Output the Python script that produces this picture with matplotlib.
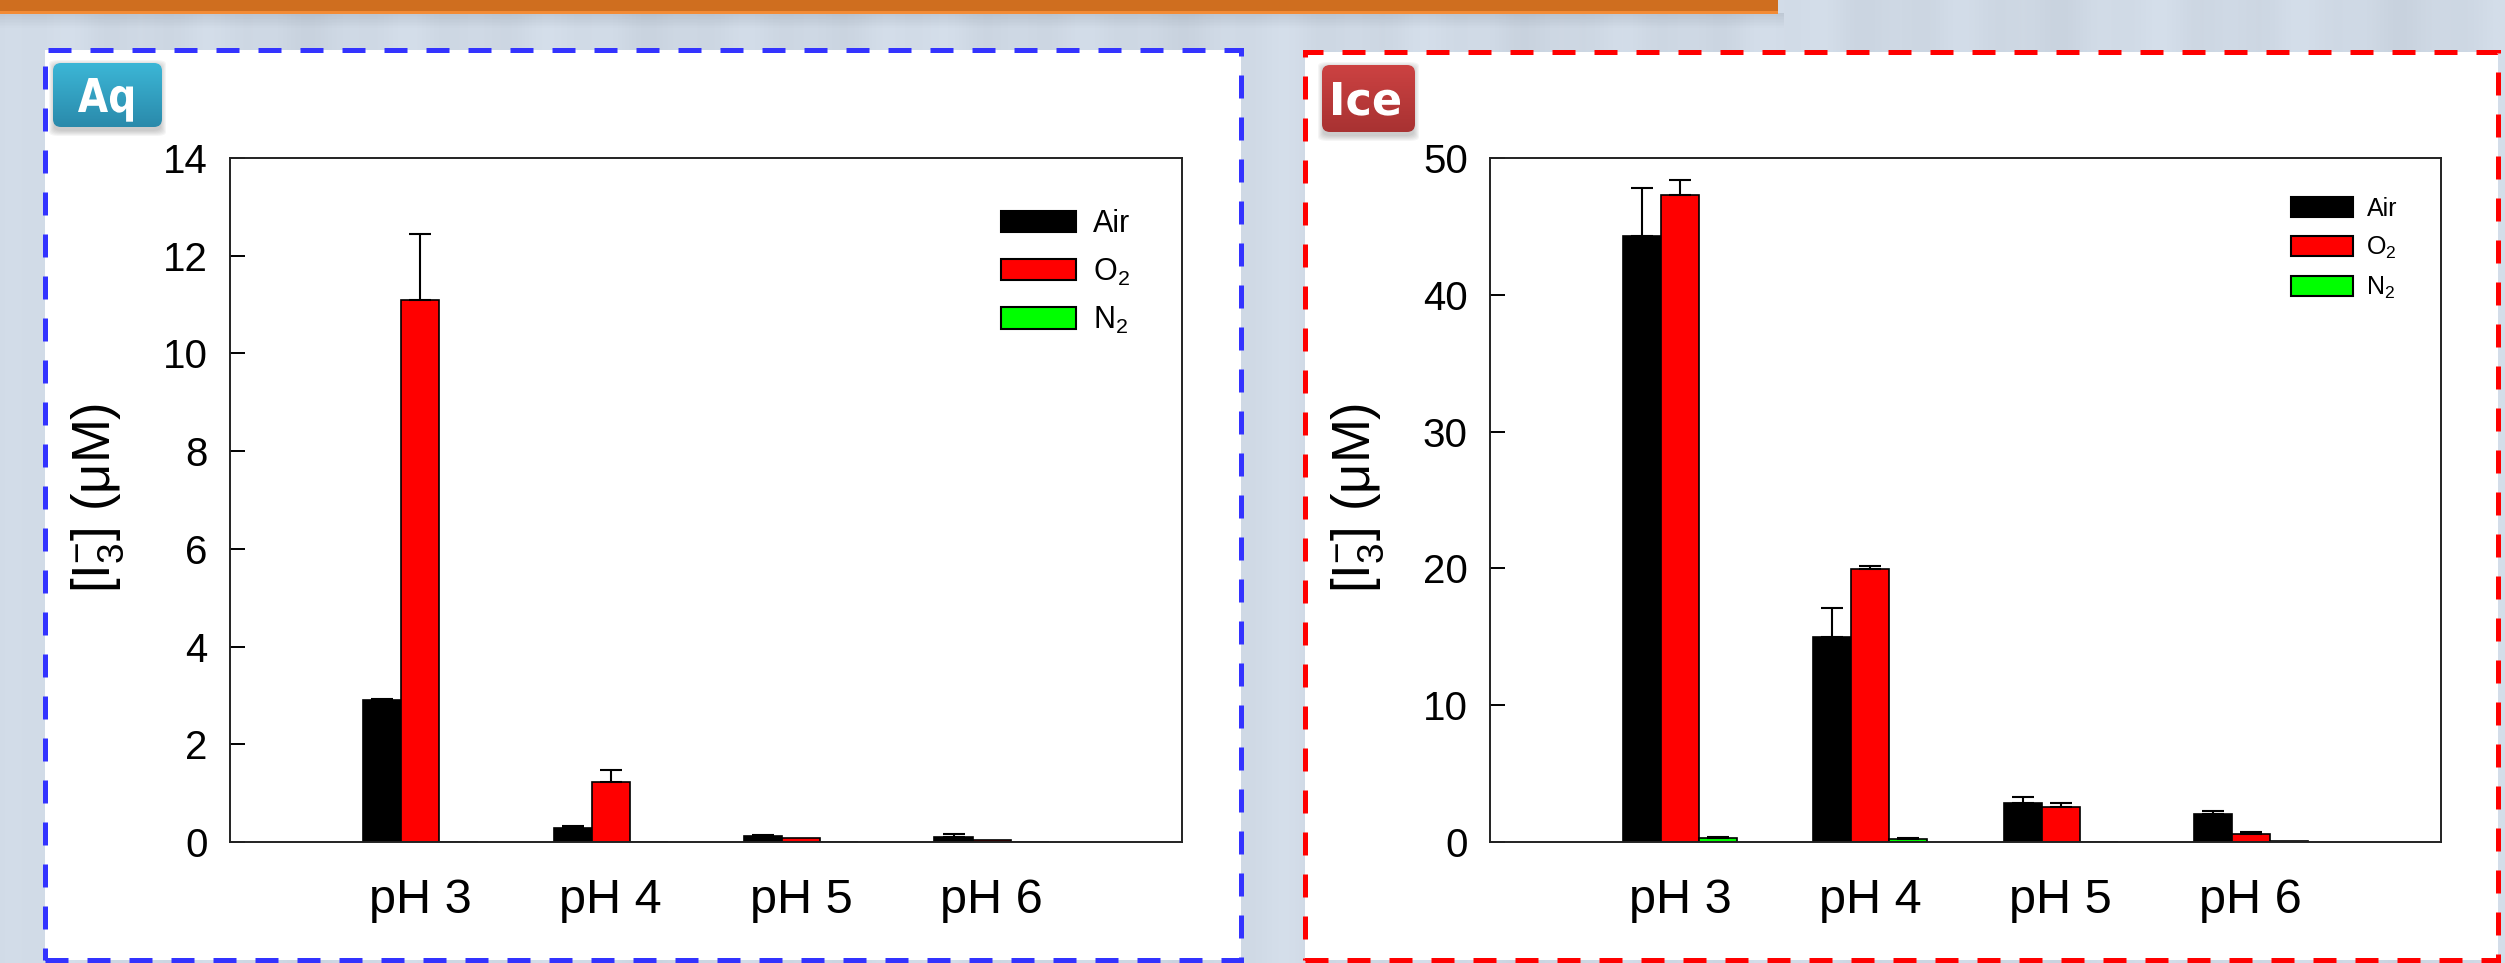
import numpy as np
import matplotlib
matplotlib.use('Agg')
import matplotlib.pyplot as plt
from matplotlib.patches import Rectangle, FancyBboxPatch, PathPatch
from matplotlib.textpath import TextPath
from matplotlib.font_manager import FontProperties
from matplotlib.transforms import Affine2D

plt.rcParams['font.family'] = ['Liberation Sans', 'DejaVu Sans']
plt.rcParams['mathtext.fontset'] = 'custom'
plt.rcParams['mathtext.rm'] = 'Liberation Sans'
plt.rcParams['mathtext.it'] = 'Liberation Sans:italic'
plt.rcParams['mathtext.default'] = 'regular'

# ---------------- data ----------------
categories = ['pH 3', 'pH 4', 'pH 5', 'pH 6']
series = ['Air', 'O$_2$', 'N$_2$']
colors = ['#000000', '#ff0000', '#00ff00']

aq_air = [2.90, 0.28, 0.12, 0.10]
aq_air_err = [0.03, 0.05, 0.03, 0.06]
aq_o2 = [11.1, 1.22, 0.08, 0.05]
aq_o2_err = [1.35, 0.25, 0.0, 0.0]
aq_n2 = [0.0, 0.0, 0.0, 0.0]
aq_n2_err = [0.0, 0.0, 0.0, 0.0]

ice_air = [44.3, 15.0, 2.85, 2.05]
ice_air_err = [3.5, 2.1, 0.45, 0.18]
ice_o2 = [47.3, 19.95, 2.55, 0.60]
ice_o2_err = [1.1, 0.2, 0.3, 0.15]
ice_n2 = [0.27, 0.20, 0.0, 0.10]
ice_n2_err = [0.07, 0.07, 0.0, 0.0]

aq_ticks = [0, 2, 4, 6, 8, 10, 12, 14]
ice_ticks = [0, 10, 20, 30, 40, 50]
ylabel = '[I$_3^{-}$] (\u03bcM)'

# ---------------- figure ----------------
W, H = 2505, 963
fig = plt.figure(figsize=(W / 100, H / 100), dpi=100, facecolor='#cfd9e5')


def fx(x):
    return x / W


def fy(y):
    return 1 - y / H


def frect(x0, y0, x1, y1, **kw):
    return Rectangle((fx(x0), fy(y1)), (x1 - x0) / W, (y1 - y0) / H,
                     transform=fig.transFigure, **kw)


# background texture (subtle vertical streaks)
bg = fig.add_axes([0, 0, 1, 1], zorder=-10)
bg.axis('off')
xs = np.linspace(0, 1, 600)
streak = (0.012 * np.sin(xs * 90) + 0.008 * np.sin(xs * 233 + 1.3)
          + 0.006 * np.sin(xs * 37 + 0.4))
base = np.array([0.812, 0.851, 0.898])
img = np.clip(base[None, None, :] + streak[None, :, None], 0, 1)
img = np.repeat(img, 4, axis=0)
bg.imshow(img, aspect='auto', extent=[0, 1, 0, 1], interpolation='bilinear')
bg.set_xlim(0, 1)
bg.set_ylim(0, 1)

# orange header with shadow
for k in range(10):
    fig.add_artist(frect(0, 13 + k * 1.5, 1778 + 6, 13 + (k + 1) * 1.5,
                         facecolor='#5a6470', alpha=0.16 * (1 - k / 10),
                         linewidth=0, zorder=-6))
fig.add_artist(frect(0, 0, 1778, 12, facecolor='#cf6e1f', linewidth=0, zorder=-5))
fig.add_artist(frect(0, 11, 1778, 14, facecolor='#f28b35', linewidth=0, zorder=-5))

# panels
dash = (0, (4.6, 3.8))
for (x0, y0, x1, y1, ec) in [(44.5, 50, 1241, 960, '#3333ff'),
                             (1304.5, 52, 2498, 960, '#ff0000')]:
    fig.add_artist(frect(x0, y0, x1, y1, facecolor='white', edgecolor='none',
                         zorder=-4))
    fig.add_artist(frect(x0, y0, x1, y1, facecolor='none', edgecolor=ec,
                         linewidth=3.6, linestyle=dash, zorder=-3))


# badges
def badge(x0, y0, x1, y1, text, ctop, cbot, tx0, tx1, cap_top, base_y):
    for k in range(6):
        s = 6 - k
        fig.add_artist(FancyBboxPatch((fx(x0 - s + 2), fy(y1 + s + 3)),
                                      (x1 - x0 + 2 * s - 4) / W,
                                      (y1 - y0 + 2 * s) / H,
                                      boxstyle='round,pad=0,rounding_size=0.004',
                                      transform=fig.transFigure,
                                      facecolor='#4a4a4a', alpha=0.05,
                                      linewidth=0, zorder=4))
    bax = fig.add_axes([fx(x0), fy(y1), (x1 - x0) / W, (y1 - y0) / H], zorder=5)
    bax.axis('off')
    bax.set_xlim(0, x1 - x0)
    bax.set_ylim(0, y1 - y0)
    c1 = np.array(matplotlib.colors.to_rgb(ctop))
    c2 = np.array(matplotlib.colors.to_rgb(cbot))
    t = np.linspace(0, 1, 64)[:, None]
    grad = (c1[None, :] * (1 - t) + c2[None, :] * t)[:, None, :]
    grad = np.repeat(grad, 2, axis=1)
    im = bax.imshow(grad, extent=[0, x1 - x0, 0, y1 - y0], aspect='auto',
                    interpolation='bilinear')
    clip = FancyBboxPatch((0, 0), x1 - x0, y1 - y0,
                          boxstyle='round,pad=0,rounding_size=8',
                          transform=bax.transData, facecolor='none',
                          edgecolor='none')
    bax.add_patch(clip)
    im.set_clip_path(clip)
    fp = FontProperties(family='DejaVu Sans', weight='bold')
    tp = TextPath((0, 0), text, size=100, prop=fp)
    capp = TextPath((0, 0), 'I', size=100, prop=fp).get_extents()
    ext = tp.get_extents()
    sx = (tx1 - tx0) / ext.width
    sy = (base_y - cap_top) / capp.height
    tr = (Affine2D().translate(-ext.x0, 0).scale(sx, sy)
          .translate(tx0 - x0, (y1 - y0) - (base_y - y0)))
    bax.add_patch(PathPatch(tr.transform_path(tp), facecolor='white',
                            edgecolor='none'))


badge(53, 63, 162, 127, 'Aq', '#3cb6d6', '#2a8aab', 78, 133, 78, 112)
badge(1322, 65, 1415, 132, 'Ice', '#cc4242', '#a83232', 1333, 1400, 82, 115)

# ---------------- axes ----------------
ax_specs = [
    ([fx(230), fy(842), (1182 - 230) / W, (842 - 158) / H],
     [aq_air, aq_o2, aq_n2], [aq_air_err, aq_o2_err, aq_n2_err],
     aq_ticks, 22, (0.81, 0.925), 2.45, 0.69, 0.56),
    ([fx(1490), fy(842), (2441 - 1490) / W, (842 - 158) / H],
     [ice_air, ice_o2, ice_n2], [ice_air_err, ice_o2_err, ice_n2_err],
     ice_ticks, 18, (0.842, 0.943), 2.48, 0.84, 0.55),
]

x = np.arange(1, len(categories) + 1)
bw = 0.2
for rect, vals, errs, ticks, lfs, lpos, hl, hh, ls in ax_specs:
    ax = fig.add_axes(rect, zorder=1)
    ax.set_facecolor('white')
    for i in range(3):
        xi = x + (i - 1) * bw
        v = np.array(vals[i], dtype=float)
        e = np.array(errs[i], dtype=float)
        ax.bar(xi, v, width=bw, color=colors[i], edgecolor='black',
               linewidth=1.2, label=series[i], zorder=2)
        m = e > 0
        ax.errorbar(xi[m], v[m], yerr=[np.zeros(m.sum()), e[m]], fmt='none',
                    ecolor='black', elinewidth=1.5, capsize=8, capthick=1.5,
                    zorder=3)
    ax.set_xlim(0, 5)
    ax.set_ylim(ticks[0], ticks[-1])
    ax.set_yticks(ticks)
    ax.set_xticks(x)
    ax.set_xticklabels(categories)
    ax.tick_params(axis='x', length=0, pad=26, labelsize=35)
    ax.tick_params(axis='y', direction='in', length=11, width=1.4, pad=16,
                   labelsize=29)
    for sp in ax.spines.values():
        sp.set_linewidth(1.4)
        sp.set_color('#222222')
    ax.set_ylabel(ylabel, fontsize=38)
    ax.yaxis.set_label_coords(-104 / (rect[2] * W), 0.503)
    leg = ax.legend(loc='upper left', bbox_to_anchor=lpos, frameon=False,
                    fontsize=lfs, handlelength=hl, handleheight=hh,
                    labelspacing=ls, handletextpad=0.55, borderpad=0,
                    borderaxespad=0)
    for p in leg.get_patches():
        p.set_linewidth(1.5)
        p.set_edgecolor('black')

fig.savefig('out.png', dpi=100, facecolor=fig.get_facecolor())
